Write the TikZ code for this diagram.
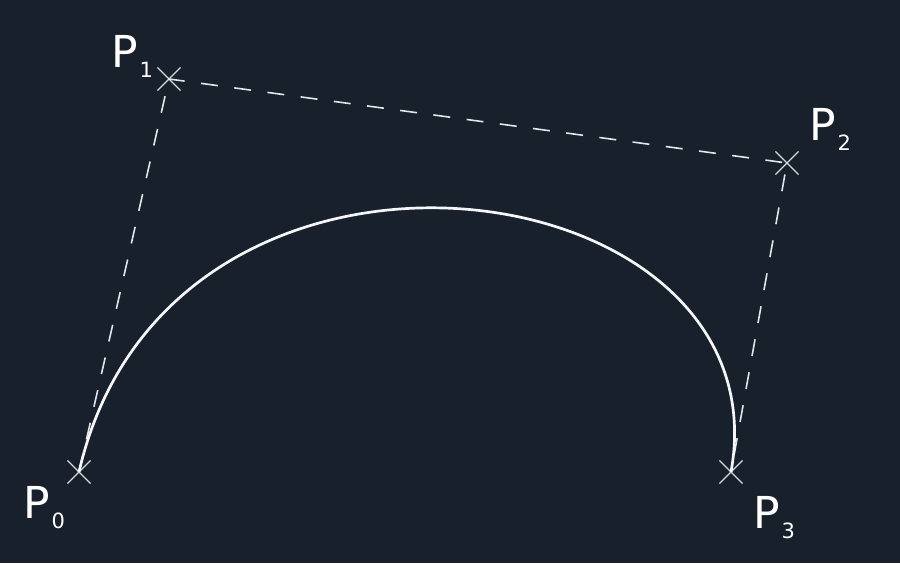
\documentclass[tikz,border=0pt]{standalone}
\usepackage{fontspec}
\setmainfont{DejaVu Sans}
\usetikzlibrary{shapes.misc}
\definecolor{bg}{HTML}{18202B}
\definecolor{ink}{HTML}{F4F6F8}
\definecolor{dashink}{HTML}{E2E6EA}
\definecolor{crossink}{HTML}{D4D8DC}
\newcommand{\ptlabel}[1]{P\kern2pt\raisebox{-10pt}{\fontsize{21}{21}\selectfont #1}}
\begin{document}
\begin{tikzpicture}[x=1pt,y=-1pt,
  ctrlpt/.style={cross out,draw=crossink,line width=1.1pt,minimum size=22pt,inner sep=0pt},
  guide/.style={draw=dashink,line width=1.6pt,dash pattern=on 17pt off 16.5pt},
  curveline/.style={draw=ink,line width=2.7pt},
  lbl/.style={text=white,font=\fontsize{44}{44}\selectfont,anchor=base west,inner sep=0pt}]
\fill[bg] (0,0) rectangle (900,563);
\useasboundingbox (0,0) rectangle (900,563);
\node[ctrlpt] (p0) at (79,472) {};
\node[ctrlpt] (p1) at (169,79) {};
\node[ctrlpt] (p2) at (787,163) {};
\node[ctrlpt] (p3) at (731,472) {};
\path[guide] (p0.center) -- (p1.center) -- (p2.center) -- (p3.center);
\path[curveline] (p0.center) .. controls (p1.center) and (p2.center) .. (p3.center);
\node[lbl] (l0) at (23,518) {\ptlabel{0}};
\node[lbl] (l1) at (111,67) {\ptlabel{1}};
\node[lbl] (l2) at (809,140) {\ptlabel{2}};
\node[lbl] (l3) at (753,528) {\ptlabel{3}};
\end{tikzpicture}
\end{document}
